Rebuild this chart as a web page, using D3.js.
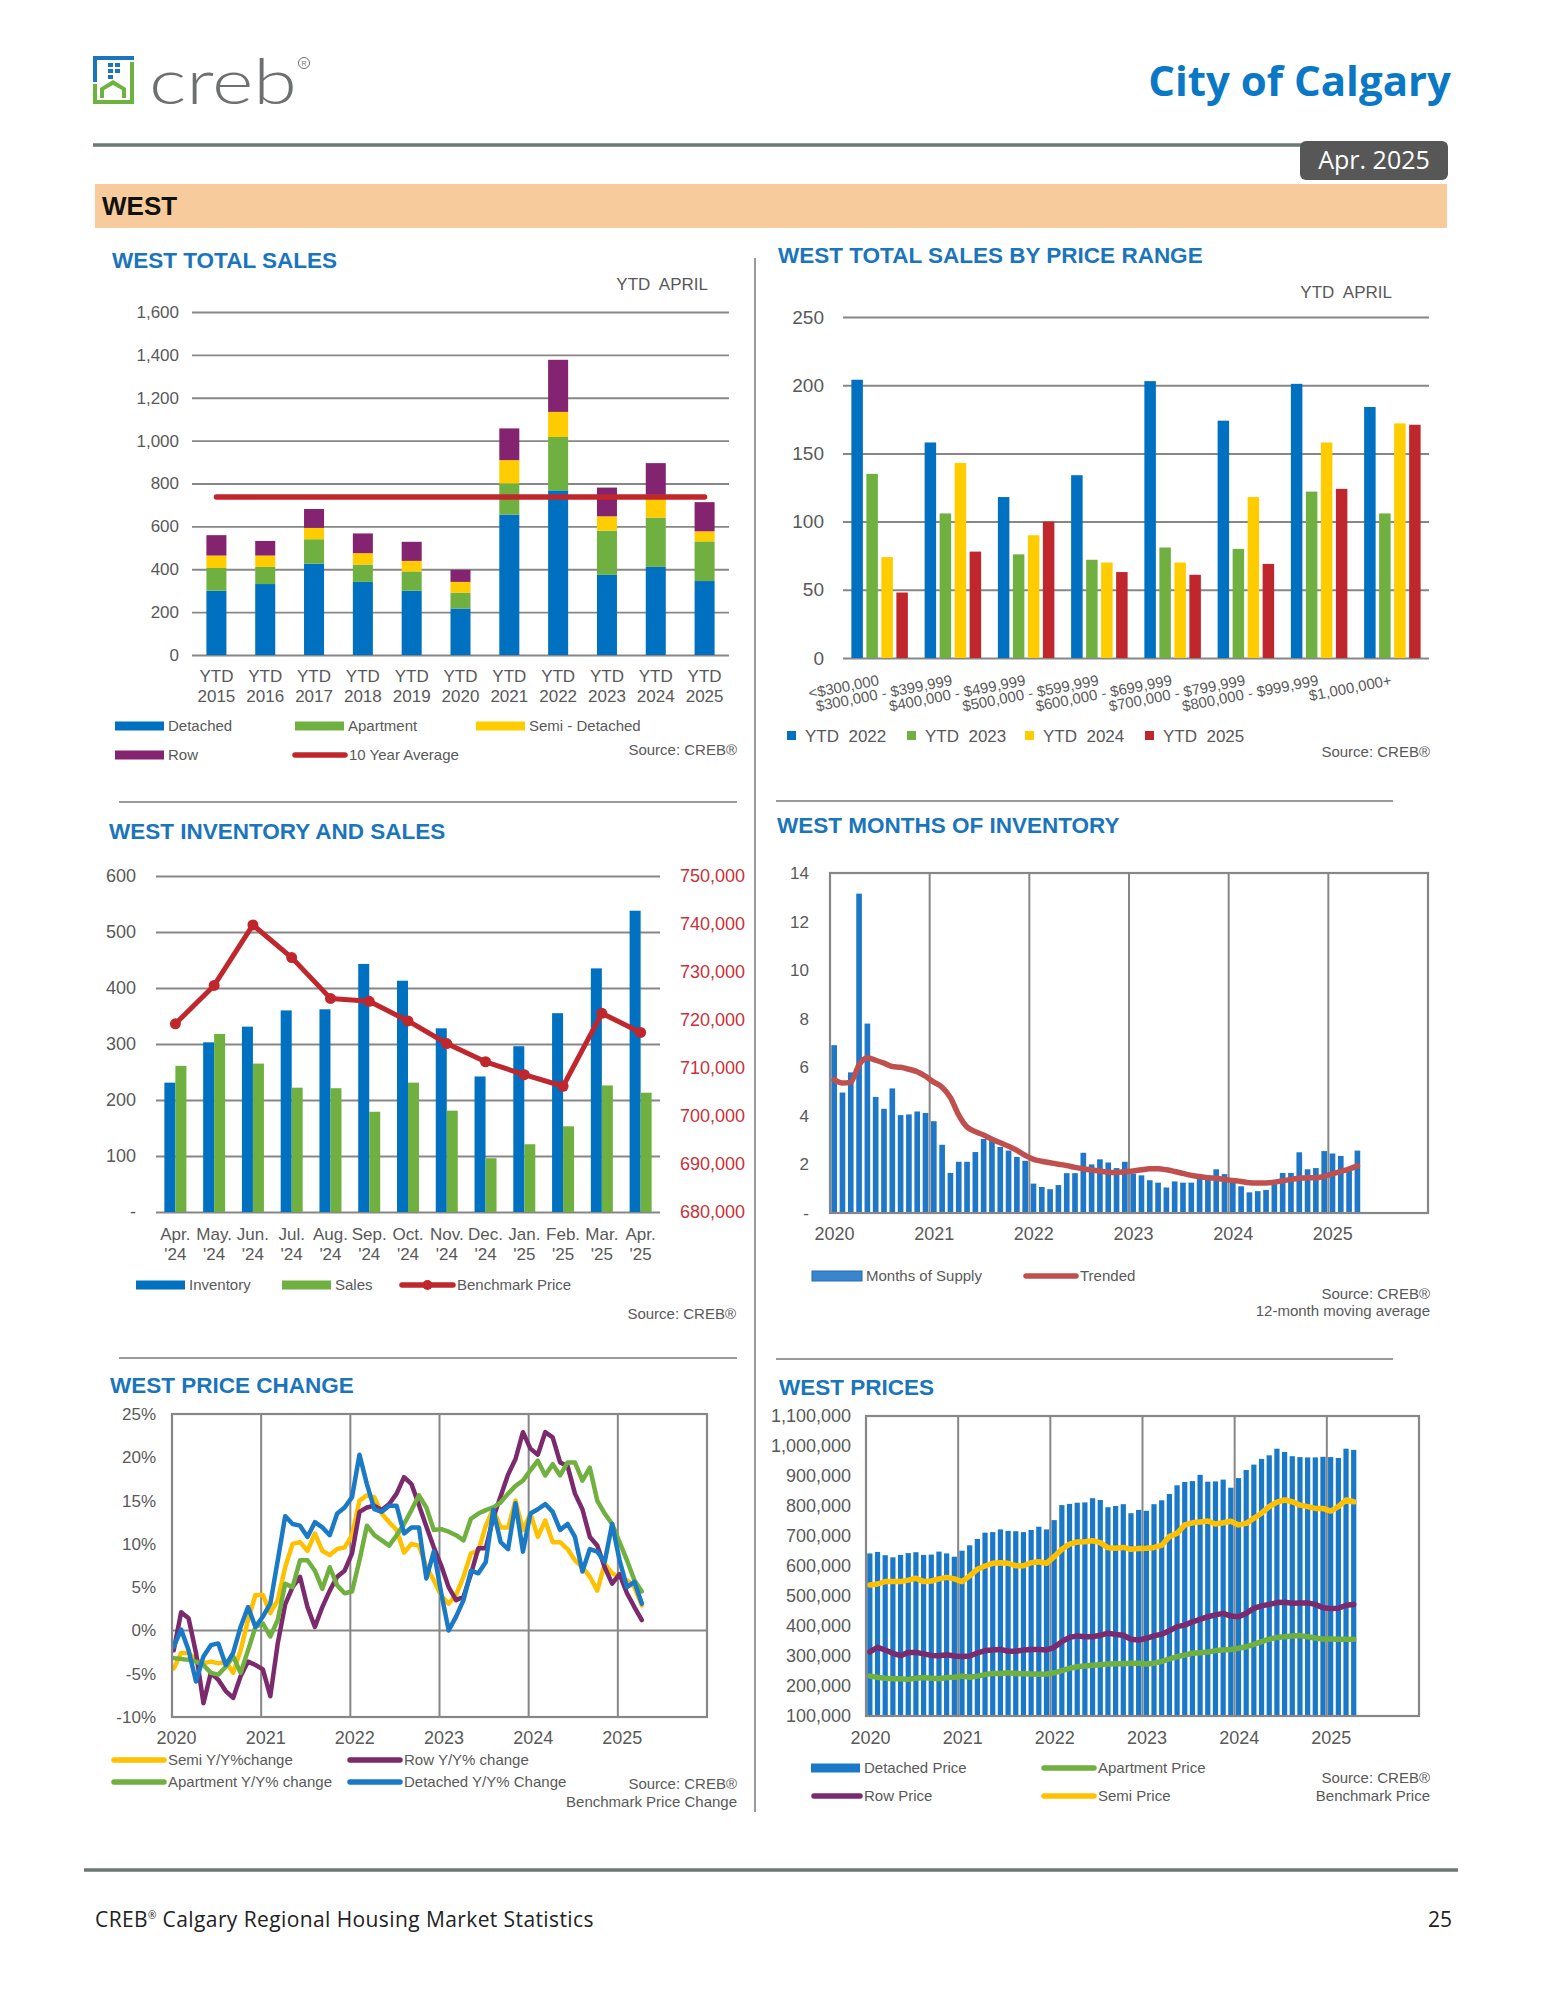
<!DOCTYPE html>
<html><head><meta charset="utf-8">
<script src="https://cdn.jsdelivr.net/npm/d3@7"></script>
<style>
body{margin:0;background:#fff;}
svg{display:block;}
text{white-space:pre;}
</style></head><body>
<svg id="page" width="1545" height="2000"></svg>
<script>
// ---------------- DATA ----------------
const salesYears = ['2015','2016','2017','2018','2019','2020','2021','2022','2023','2024','2025'];
const salesDetached  = [300,331,426,341,300,217,655,768,374,411,345];
const salesApartment = [106, 80,114, 81, 90, 74,145,249,206,230,185];
const salesSemi      = [ 58, 53, 53, 53, 49, 50,109,117, 67,106, 47];
const salesRow       = [ 95, 68, 88, 92, 89, 56,148,243,134,148,136];
const tenYearAverage = 737;
const salesTicks = [0,200,400,600,800,1000,1200,1400,1600];

const priceRanges = ['<$300,000','$300,000 - $399,999','$400,000 - $499,999','$500,000 - $599,999','$600,000 - $699,999','$700,000 - $799,999','$800,000 - $999,999','$1,000,000+'];
const rangeSeries = ['YTD  2022','YTD  2023','YTD  2024','YTD  2025'];
const ytd2022 = [204,158,118,134,203,174,201,184];
const ytd2023 = [135,106, 76, 72, 81, 80,122,106];
const ytd2024 = [ 74,143, 90, 70, 70,118,158,172];
const ytd2025 = [ 48, 78,100, 63, 61, 69,124,171];
const rangeTicks = [0,50,100,150,200,250];

const invMonths = ['Apr.','May.','Jun.','Jul.','Aug.','Sep.','Oct.','Nov.','Dec.','Jan.','Feb.','Mar.','Apr.'];
const invYears  = ["'24","'24","'24","'24","'24","'24","'24","'24","'24","'25","'25","'25","'25"];
const inventory = [231,303,331,360,362,443,413,328,242,296,355,435,538];
const sales     = [261,318,265,222,221,179,231,181, 96,121,153,226,213];
const benchmark = [719200,727200,739800,733000,724500,723900,719800,715100,711300,708600,706200,721400,717400];
const invTicks = [0,100,200,300,400,500,600];
const priceTicksR = [680000,690000,700000,710000,720000,730000,740000,750000];

// monthly series Jan 2020 .. Apr 2025
const years = [2020,2021,2022,2023,2024,2025];
const monthsOfSupply = [
 6.91,4.96,5.79,13.15,7.80,4.78,4.29,5.13,4.03,4.06,4.18,4.12,
 3.78,2.81,1.65,2.11,2.11,2.51,3.05,3.02,2.72,2.57,2.31,2.15,
 1.21,1.07,0.98,1.15,1.64,1.64,2.48,2.00,2.21,2.08,1.85,2.11,
 1.62,1.55,1.35,1.25,1.05,1.30,1.25,1.25,1.45,1.45,1.80,1.60,
 1.25,1.10,0.85,0.90,0.95,1.25,1.65,1.65,2.50,1.80,1.85,2.55,
 2.45,2.35,1.90,2.57];
const trended = [
 5.49,5.35,5.39,6.10,6.39,6.29,6.17,6.03,6.00,5.92,5.82,5.63,
 5.39,5.18,4.75,4.03,3.54,3.35,3.21,3.04,2.89,2.75,2.58,2.37,
 2.21,2.13,2.07,2.01,1.95,1.88,1.82,1.77,1.73,1.68,1.67,1.70,
 1.73,1.78,1.82,1.82,1.78,1.71,1.63,1.55,1.50,1.45,1.43,1.38,
 1.34,1.30,1.25,1.24,1.24,1.27,1.33,1.38,1.43,1.45,1.45,1.51,
 1.61,1.71,1.81,1.94];
const moiTicks = [0,2,4,6,8,10,12,14];

const semiChange = [
 -4.4,-2.6,-2.6,-3.4,-3.8,-3.6,-3.8,-3.6,-4.9,-2.3,1.2,4.1,
 4.1,2.0,3.5,7.3,10.0,10.2,9.2,11.2,9.2,8.7,9.4,9.6,
 11.0,15.0,15.6,15.4,13.5,12.5,11.6,9.0,10.0,9.8,7.3,5.8,
 4.0,3.1,4.1,6.2,8.9,9.2,12.1,14.0,11.9,11.9,15.0,11.6,
 13.5,10.8,12.7,10.2,10.2,9.4,8.1,7.3,6.2,4.6,7.7,6.6,
 6.2,5.8,5.0,2.9];
const rowChange = [
 -2.3,2.1,1.4,-2.6,-8.4,-4.9,-5.7,-7.0,-7.8,-5.3,-3.6,-4.0,
 -4.5,-7.6,-1.5,3.0,5.0,6.2,2.7,0.4,2.7,4.6,6.2,6.9,
 8.9,13.7,14.2,14.4,13.9,14.6,15.8,17.7,16.9,14.5,12.0,9.6,
 7.5,5.0,3.5,3.9,6.5,9.5,9.5,13.0,15.5,18.0,19.8,22.9,
 21.0,20.3,22.9,22.3,19.4,19.0,15.8,14.0,10.8,9.8,7.3,5.4,
 6.5,4.3,2.7,1.2];
const apartmentChange = [
 -3.2,-3.3,-3.4,-3.6,-4.0,-4.9,-5.1,-4.2,-3.0,-4.9,-2.3,0.4,
 0.8,-0.7,1.2,5.4,5.0,8.1,8.1,6.9,4.8,7.3,5.2,4.3,
 4.5,8.1,12.1,11.0,10.4,9.8,11.0,12.3,13.9,15.6,14.2,11.6,
 11.7,11.4,11.0,10.4,12.9,13.5,13.9,14.2,14.8,15.8,16.7,17.3,
 18.5,19.6,17.9,19.2,17.9,19.4,19.4,17.3,18.8,15.0,13.5,12.3,
 10.2,8.1,5.8,4.5];
const detachedChange = [
 -1.9,0.1,-2.3,-5.9,-3.0,-1.7,-1.5,-4.0,-2.6,0.4,2.7,0.4,
 1.6,3.1,8.1,13.2,12.3,12.1,10.8,12.5,11.9,11.0,13.5,14.2,
 15.4,20.3,16.9,14.0,13.7,14.4,14.4,11.2,11.9,11.9,6.0,9.1,
 4.3,0.0,1.6,3.5,6.9,6.6,7.9,13.9,10.2,9.4,14.7,9.1,
 13.5,14.0,14.6,13.7,11.6,12.3,10.8,6.8,9.4,9.1,7.9,12.3,
 8.1,5.0,5.6,3.1];
const changeTicks = [-10,-5,0,5,10,15,20,25];

const detachedPrice = [
 642000,647000,636000,629000,637000,643000,646000,637000,638000,648000,642000,631000,
 651000,669000,690000,711000,713000,722000,717000,716000,713000,720000,731000,722000,
 753000,803000,807000,811000,812000,826000,820000,796000,800000,806000,776000,787000,
 784000,806000,819000,840000,869000,880000,883000,904000,881000,882000,888000,861000,
 893000,920000,938000,957000,969000,991000,980000,966000,963000,962000,962000,964000,
 963000,960000,991000,987000];
const semiPrice = [
 537000,540000,548000,548000,548000,553000,559000,548000,550000,557000,562000,557000,
 548000,567000,589000,600000,609000,611000,609000,601000,601000,611000,614000,609000,
 631000,656000,673000,680000,681000,684000,678000,661000,659000,662000,656000,658000,
 659000,662000,669000,698000,709000,737000,744000,747000,750000,740000,744000,749000,
 737000,742000,759000,776000,798000,813000,820000,814000,803000,798000,792000,792000,
 783000,798000,820000,814000];
const rowPrice = [
 314000,329000,320000,309000,301000,312000,312000,307000,302000,301000,304000,300000,
 298000,300000,310000,318000,320000,322000,316000,316000,320000,322000,322000,320000,
 329000,348000,362000,367000,364000,364000,369000,376000,372000,369000,356000,353000,
 359000,367000,373000,384000,398000,403000,414000,422000,431000,437000,442000,433000,
 431000,442000,459000,467000,472000,478000,479000,476000,477000,477000,472000,461000,
 458000,459000,469000,472000];
const apartmentPrice = [
 233000,229000,226000,224000,224000,222000,226000,228000,226000,224000,228000,229000,
 233000,229000,233000,238000,242000,242000,244000,242000,241000,240000,239000,240000,
 244000,251000,259000,264000,267000,269000,271000,273000,274000,274000,276000,276000,
 273000,276000,282000,290000,298000,303000,309000,311000,313000,318000,320000,322000,
 326000,331000,339000,348000,356000,362000,364000,367000,368000,364000,360000,357000,
 357000,356000,356000,356000];
const priceTicks = [100000,200000,300000,400000,500000,600000,700000,800000,900000,1000000,1100000];

// ---------------- STYLE ----------------
const FONT = '"Liberation Sans", Arial, Helvetica, sans-serif';
const HFONT = '"Open Sans", "Noto Sans", sans-serif';
const TXT = '#595959';
const GRID = '#878787';
const TITLE = '#1b75bc';
const C_DET = '#0070c0', C_APT = '#6fb040', C_SEMI = '#ffcc00', C_ROW = '#84236f', C_RED = '#c0272d';
const C_SEMI_L = '#ffc000', C_ROW_L = '#7b2a6e', C_APT_L = '#70b03f', C_DET_L = '#1a7ac6';

const svg = d3.select('#page');
svg.append('rect').attr('width',1545).attr('height',2000).attr('fill','#fff');

function txt(g, x, y, s, o={}) {
  return g.append('text').attr('x',x).attr('y',y).text(s)
    .attr('font-size', o.size||15).attr('fill', o.fill||TXT)
    .attr('text-anchor', o.anchor||'start').attr('font-weight', o.weight||'normal')
    .attr('font-family', o.family||FONT);
}
function styleAxis(g, size, color, gridW) {
  g.select('.domain').remove();
  g.selectAll('text').attr('fill', color||TXT).attr('font-size', size).attr('font-family', FONT);
  g.selectAll('line').attr('stroke', GRID).attr('stroke-width', gridW||1.8);
}
function legBar(g, x, y, w, color, label, size) {
  g.append('rect').attr('x',x).attr('y',y-4.5).attr('width',w).attr('height',9).attr('fill',color);
  txt(g, x+w+4, y+5, label, {size: size||15});
}
function legLine(g, x, y, w, color, label, size, dot) {
  g.append('line').attr('x1',x).attr('x2',x+w).attr('y1',y).attr('y2',y)
    .attr('stroke',color).attr('stroke-width',5.5).attr('stroke-linecap','round');
  if (dot) g.append('circle').attr('cx',x+w/2).attr('cy',y).attr('r',5).attr('fill',color);
  txt(g, x+w+4, y+5, label, {size: size||15});
}
function hline(x1,x2,y,w,c){ svg.append('line').attr('x1',x1).attr('x2',x2).attr('y1',y).attr('y2',y).attr('stroke',c||'#9a9a9a').attr('stroke-width',w||2); }

// ---------------- HEADER ----------------
const logo = svg.append('g');
logo.append('path').attr('d','M93,56 H134 V60 H97 V82 H93 Z').attr('fill','#1b75bc');
logo.append('rect').attr('x',108).attr('y',63).attr('width',5).attr('height',4).attr('fill','#1b75bc');
logo.append('rect').attr('x',108).attr('y',69).attr('width',5).attr('height',4).attr('fill','#1b75bc');
logo.append('rect').attr('x',108).attr('y',75).attr('width',5).attr('height',4).attr('fill','#1b75bc');
logo.append('rect').attr('x',115).attr('y',63).attr('width',5).attr('height',4).attr('fill','#1b75bc');
logo.append('rect').attr('x',115).attr('y',69).attr('width',5).attr('height',4).attr('fill','#1b75bc');
logo.append('path').attr('d','M93,84 H97 V100 H130 V62 H134 V104 H93 Z').attr('fill','#6cb33f');
logo.append('path').attr('d','M100,98 V88 L113,80 L126,88 V98 H122 V90 L113,85 L104,90 V98 Z').attr('fill','#6cb33f');
logo.append('text').attr('x',149).attr('y',104).text('creb').attr('font-family','Lato, "Open Sans", sans-serif')
  .attr('font-weight',300).attr('font-size',64).attr('fill','#6d6f71').attr('textLength',148).attr('lengthAdjust','spacingAndGlyphs');
logo.append('circle').attr('cx',304).attr('cy',63).attr('r',5.5).attr('fill','none').attr('stroke','#6d6f71').attr('stroke-width',1);
logo.append('text').attr('x',304).attr('y',66).text('R').attr('font-size',7).attr('text-anchor','middle').attr('fill','#6d6f71').attr('font-family',FONT);

txt(svg, 1451, 96, 'City of Calgary', {size:42, weight:'bold', fill:'#0b78c6', anchor:'end', family:HFONT});
hline(93, 1447, 145, 3.5, '#6a7873');
svg.append('rect').attr('x',1300).attr('y',141).attr('width',148).attr('height',39).attr('rx',6).attr('fill','#575757');
txt(svg, 1374, 169, 'Apr. 2025', {size:25, fill:'#fff', anchor:'middle', family:HFONT});
svg.append('rect').attr('x',95).attr('y',184).attr('width',1352).attr('height',44).attr('fill','#f8cb9d');
txt(svg, 102, 215, 'WEST', {size:26, weight:'bold', fill:'#111'});

// separators
hline(119, 737, 802); hline(776, 1393, 801);
hline(119, 737, 1358); hline(776, 1393, 1359);
svg.append('line').attr('x1',755).attr('x2',755).attr('y1',258).attr('y2',1812).attr('stroke','#9a9a9a').attr('stroke-width',2);

// ---------------- CHART 1: TOTAL SALES ----------------
(function(){
  const g = svg.append('g');
  txt(g, 112, 268, 'WEST TOTAL SALES', {size:22.5, weight:'bold', fill:TITLE});
  txt(g, 708, 290, 'YTD  APRIL', {size:17, anchor:'end'});
  const y = d3.scaleLinear().domain([0,1600]).range([655,312]);
  const x = d3.scaleBand().domain(salesYears).range([192,729]).paddingInner(0.59).paddingOuter(0.295);
  const ax = g.append('g').attr('transform','translate(192,0)')
    .call(d3.axisLeft(y).tickValues(salesTicks).tickSize(-(729-192)).tickPadding(13).tickFormat(d3.format(',')));
  styleAxis(ax, 17);
  const table = salesYears.map((yr,i)=>({yr, Detached:salesDetached[i], Apartment:salesApartment[i], Semi:salesSemi[i], Row:salesRow[i]}));
  const keys = ['Detached','Apartment','Semi','Row'];
  const colors = {Detached:C_DET, Apartment:C_APT, Semi:C_SEMI, Row:C_ROW};
  const stacked = d3.stack().keys(keys)(table);
  g.selectAll('g.layer').data(stacked).join('g').attr('fill', d=>colors[d.key])
    .selectAll('rect').data(d=>d).join('rect')
    .attr('x', d=>x(d.data.yr)).attr('width', x.bandwidth())
    .attr('y', d=>y(d[1])).attr('height', d=>y(d[0])-y(d[1]));
  g.append('line').attr('x1', x(salesYears[0])+x.bandwidth()/2).attr('x2', x(salesYears[salesYears.length-1])+x.bandwidth()/2)
    .attr('y1', y(tenYearAverage)).attr('y2', y(tenYearAverage)).attr('stroke', C_RED).attr('stroke-width',5.5).attr('stroke-linecap','round');
  salesYears.forEach(yr=>{
    const cx = x(yr)+x.bandwidth()/2;
    txt(g, cx, 682, 'YTD', {size:17, anchor:'middle'});
    txt(g, cx, 702, yr, {size:17, anchor:'middle'});
  });
  legBar(g, 115, 726, 49, C_DET, 'Detached');
  legBar(g, 295, 726, 49, C_APT, 'Apartment');
  legBar(g, 476, 726, 49, C_SEMI, 'Semi - Detached');
  legBar(g, 115, 755, 49, C_ROW, 'Row');
  legLine(g, 295, 755, 50, C_RED, '10 Year Average');
  txt(g, 737, 755, 'Source: CREB®', {size:15, anchor:'end'});
})();

// ---------------- CHART 2: SALES BY PRICE RANGE ----------------
(function(){
  const g = svg.append('g');
  txt(g, 778, 263, 'WEST TOTAL SALES BY PRICE RANGE', {size:22.5, weight:'bold', fill:TITLE});
  txt(g, 1392, 298, 'YTD  APRIL', {size:17, anchor:'end'});
  const y = d3.scaleLinear().domain([0,250]).range([658,317]);
  const x = d3.scaleBand().domain(priceRanges).range([843,1429]);
  const inner = d3.scaleBand().domain(rangeSeries).range([-30,30]);
  const ax = g.append('g').attr('transform','translate(843,0)')
    .call(d3.axisLeft(y).tickValues(rangeTicks).tickSize(-(1429-843)).tickPadding(19));
  styleAxis(ax, 19, TXT, 2);
  const series = [ytd2022, ytd2023, ytd2024, ytd2025];
  const colors = [C_DET, C_APT, C_SEMI, C_RED];
  const bw = 11.5;
  series.forEach((vals, si)=>{
    g.selectAll(null).data(vals).join('rect')
      .attr('x', (d,i)=>x(priceRanges[i]) + x.bandwidth()/2 + inner(rangeSeries[si]) + (inner.bandwidth()-bw)/2)
      .attr('width', bw).attr('y', d=>y(d)).attr('height', d=>y(0)-y(d)).attr('fill', colors[si]);
  });
  priceRanges.forEach(p=>{
    const cx = x(p)+x.bandwidth()/2;
    g.append('text').attr('transform', `translate(${cx},685) rotate(-11)`).text(p)
      .attr('text-anchor','end').attr('font-size',15).attr('fill',TXT).attr('font-family',FONT);
  });
  const lx = [787, 907, 1025, 1145];
  rangeSeries.forEach((s,i)=>{
    g.append('rect').attr('x',lx[i]).attr('y',731).attr('width',9).attr('height',9).attr('fill',colors[i]);
    txt(g, lx[i]+18, 742, s, {size:17});
  });
  txt(g, 1430, 757, 'Source: CREB®', {size:15, anchor:'end'});
})();

// ---------------- CHART 3: INVENTORY AND SALES ----------------
(function(){
  const g = svg.append('g');
  txt(g, 109, 839, 'WEST INVENTORY AND SALES', {size:22.5, weight:'bold', fill:TITLE});
  const y = d3.scaleLinear().domain([0,600]).range([1212,876]);
  const yr = d3.scaleLinear().domain([680000,750000]).range([1212,876]);
  const idx = d3.range(invMonths.length);
  const x = d3.scaleBand().domain(idx).range([156,660]);
  const ax = g.append('g').attr('transform','translate(156,0)')
    .call(d3.axisLeft(y).tickValues(invTicks).tickSize(-(660-156)).tickPadding(20).tickFormat(d=>d===0?'-':d));
  styleAxis(ax, 18, TXT, 2);
  const axr = g.append('g').attr('transform','translate(660,0)')
    .call(d3.axisRight(yr).tickValues(priceTicksR).tickSize(0).tickPadding(20).tickFormat(d3.format(',')));
  styleAxis(axr, 18, '#c8323a');
  const bw = 11;
  const cx = i => x(i)+x.bandwidth()/2;
  g.selectAll(null).data(inventory).join('rect').attr('x',(d,i)=>cx(i)-bw).attr('width',bw)
    .attr('y',d=>y(d)).attr('height',d=>y(0)-y(d)).attr('fill',C_DET);
  g.selectAll(null).data(sales).join('rect').attr('x',(d,i)=>cx(i)).attr('width',bw)
    .attr('y',d=>y(d)).attr('height',d=>y(0)-y(d)).attr('fill',C_APT);
  g.append('path').datum(benchmark).attr('d', d3.line().x((d,i)=>cx(i)).y(d=>yr(d)))
    .attr('fill','none').attr('stroke',C_RED).attr('stroke-width',5).attr('stroke-linejoin','round');
  g.selectAll(null).data(benchmark).join('circle').attr('cx',(d,i)=>cx(i)).attr('cy',d=>yr(d)).attr('r',5.5).attr('fill',C_RED);
  idx.forEach(i=>{
    txt(g, cx(i), 1240, invMonths[i], {size:17, anchor:'middle'});
    txt(g, cx(i), 1260, invYears[i], {size:17, anchor:'middle'});
  });
  legBar(g, 136, 1285, 49, C_DET, 'Inventory');
  legBar(g, 282, 1285, 49, C_APT, 'Sales');
  legLine(g, 402, 1285, 51, C_RED, 'Benchmark Price', 15, true);
  txt(g, 736, 1319, 'Source: CREB®', {size:15, anchor:'end'});
})();

// shared monthly helpers
function monthScales(x0, x1) {
  const band = d3.scaleBand().domain(d3.range(72)).range([x0,x1]).paddingInner(0.32).paddingOuter(0.16);
  const yx = d3.scaleLinear().domain([2020,2026]).range([x0,x1]);
  const mx = i => band(i) + band.bandwidth()/2;
  return {band, yx, mx};
}
function frame(g, x0, x1, y0, y1, yx, pad) {
  years.slice(1).forEach(yv=>{
    g.append('line').attr('x1',yx(yv)).attr('x2',yx(yv)).attr('y1',y0).attr('y2',y1).attr('stroke',GRID).attr('stroke-width',2);
  });
  const ab = g.append('g').attr('transform',`translate(0,${y1})`)
    .call(d3.axisBottom(yx).tickValues(years).tickSize(0).tickPadding(pad).tickFormat(d3.format('d')));
  styleAxis(ab, 18);
  ab.selectAll('text').attr('dx', 4);
}
function box(g, x0, x1, y0, y1) {
  g.append('rect').attr('x',x0).attr('y',y0).attr('width',x1-x0).attr('height',y1-y0)
    .attr('fill','none').attr('stroke',GRID).attr('stroke-width',2.2);
}

// ---------------- CHART 4: MONTHS OF INVENTORY ----------------
(function(){
  const g = svg.append('g');
  txt(g, 777, 833, 'WEST MONTHS OF INVENTORY', {size:22.5, weight:'bold', fill:TITLE});
  const X0=830, X1=1428, Y0=873, Y1=1213;
  const y = d3.scaleLinear().domain([0,14]).range([Y1,Y0]);
  const {band, yx, mx} = monthScales(X0, X1);
  frame(g, X0, X1, Y0, Y1, yx, 14);
  const ay = g.append('g').attr('transform',`translate(${X0},0)`)
    .call(d3.axisLeft(y).tickValues(moiTicks).tickSize(0).tickPadding(21).tickFormat(d=>d===0?'-':d));
  styleAxis(ay, 17);
  g.selectAll(null).data(monthsOfSupply).join('rect').attr('x',(d,i)=>band(i)).attr('width',band.bandwidth())
    .attr('y',d=>y(d)).attr('height',d=>y(0)-y(d)).attr('fill','#1f77c8');
  g.append('path').datum(trended).attr('d', d3.line().x((d,i)=>mx(i)).y(d=>y(d)).curve(d3.curveMonotoneX))
    .attr('fill','none').attr('stroke','#c0504d').attr('stroke-width',5.5).attr('stroke-linejoin','round').attr('stroke-linecap','round');
  box(g, X0, X1, Y0, Y1);
  g.append('rect').attr('x',812).attr('y',1271).attr('width',50).attr('height',10).attr('fill','#3a85cc').attr('stroke','#1f6fb5').attr('stroke-width',1);
  txt(g, 866, 1281, 'Months of Supply', {size:15});
  legLine(g, 1026, 1276, 50, '#c0504d', 'Trended');
  txt(g, 1430, 1299, 'Source: CREB®', {size:15, anchor:'end'});
  txt(g, 1430, 1316, '12-month moving average', {size:15, anchor:'end'});
})();

// ---------------- CHART 5: PRICE CHANGE ----------------
(function(){
  const g = svg.append('g');
  txt(g, 110, 1393, 'WEST PRICE CHANGE', {size:22.5, weight:'bold', fill:TITLE});
  const X0=172, X1=707, Y0=1414, Y1=1717;
  const y = d3.scaleLinear().domain([-10,25]).range([Y1,Y0]);
  const {yx, mx} = monthScales(X0, X1);
  frame(g, X0, X1, Y0, Y1, yx, 14);
  g.append('line').attr('x1',X0).attr('x2',X1).attr('y1',y(0)).attr('y2',y(0)).attr('stroke',GRID).attr('stroke-width',2);
  const ay = g.append('g').attr('transform',`translate(${X0},0)`)
    .call(d3.axisLeft(y).tickValues(changeTicks).tickSize(0).tickPadding(16).tickFormat(d=>d+'%'));
  styleAxis(ay, 17);
  const line = d3.line().x((d,i)=>mx(i)-2).y(d=>y(d));
  [[semiChange,C_SEMI_L],[rowChange,C_ROW_L],[apartmentChange,C_APT_L],[detachedChange,C_DET_L]].forEach(([s,c])=>{
    g.append('path').datum(s).attr('d',line).attr('fill','none').attr('stroke',c).attr('stroke-width',4.5)
      .attr('stroke-linejoin','round').attr('stroke-linecap','round');
  });
  box(g, X0, X1, Y0, Y1);
  legLine(g, 114, 1760, 50, C_SEMI_L, 'Semi Y/Y%change');
  legLine(g, 350, 1760, 50, C_ROW_L, 'Row Y/Y% change');
  legLine(g, 114, 1782, 50, C_APT_L, 'Apartment Y/Y% change');
  legLine(g, 350, 1782, 50, C_DET_L, 'Detached Y/Y% Change');
  txt(g, 737, 1789, 'Source: CREB®', {size:15, anchor:'end'});
  txt(g, 737, 1807, 'Benchmark Price Change', {size:15, anchor:'end'});
})();

// ---------------- CHART 6: PRICES ----------------
(function(){
  const g = svg.append('g');
  txt(g, 779, 1395, 'WEST PRICES', {size:22.5, weight:'bold', fill:TITLE});
  const X0=866, X1=1419, Y0=1416, Y1=1716;
  const y = d3.scaleLinear().domain([100000,1100000]).range([Y1,Y0]);
  const {band, yx, mx} = monthScales(X0, X1);
  frame(g, X0, X1, Y0, Y1, yx, 15);
  const ay = g.append('g').attr('transform',`translate(${X0},0)`)
    .call(d3.axisLeft(y).tickValues(priceTicks).tickSize(0).tickPadding(15).tickFormat(d3.format(',')));
  styleAxis(ay, 18);
  g.selectAll(null).data(detachedPrice).join('rect').attr('x',(d,i)=>band(i)).attr('width',band.bandwidth())
    .attr('y',d=>y(d)).attr('height',d=>y(100000)-y(d)).attr('fill','#1a78c8');
  const line = d3.line().x((d,i)=>mx(i)).y(d=>y(d));
  [[semiPrice,C_SEMI_L],[rowPrice,C_ROW_L],[apartmentPrice,C_APT_L]].forEach(([s,c])=>{
    g.append('path').datum(s).attr('d',line).attr('fill','none').attr('stroke',c).attr('stroke-width',5.5)
      .attr('stroke-linejoin','round').attr('stroke-linecap','round');
  });
  box(g, X0, X1, Y0, Y1);
  legBar(g, 811, 1768, 49, '#1a78c8', 'Detached Price');
  legLine(g, 1044, 1768, 50, C_APT_L, 'Apartment Price');
  legLine(g, 814, 1796, 46, C_ROW_L, 'Row Price');
  legLine(g, 1044, 1796, 50, C_SEMI_L, 'Semi Price');
  txt(g, 1430, 1783, 'Source: CREB®', {size:15, anchor:'end'});
  txt(g, 1430, 1801, 'Benchmark Price', {size:15, anchor:'end'});
})();

// ---------------- FOOTER ----------------
hline(84, 1458, 1870, 3.5, '#6a7873');
const ft = svg.append('text').attr('x',95).attr('y',1927).attr('font-size',21).attr('fill','#222')
  .attr('font-family',HFONT).attr('letter-spacing',0.4);
ft.append('tspan').text('CREB');
ft.append('tspan').text('®').attr('font-size',10).attr('dy',-8);
ft.append('tspan').text(' Calgary Regional Housing Market Statistics').attr('dy',8);
txt(svg, 1452, 1927, '25', {size:21, anchor:'end', fill:'#222', family:HFONT});
</script>
</body></html>
